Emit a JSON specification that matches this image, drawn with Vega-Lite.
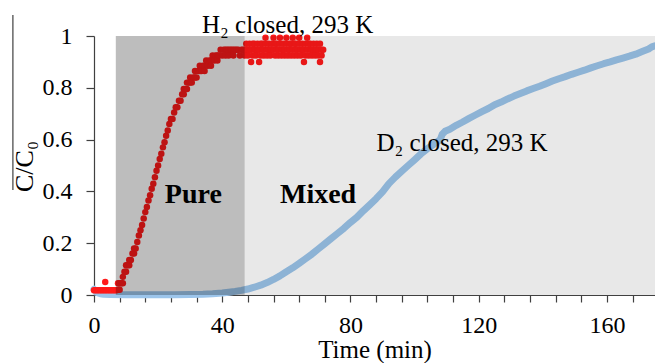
{
  "$schema": "https://vega.github.io/schema/vega-lite/v6.json",
  "width": 561,
  "height": 259,
  "autosize": {"type": "none"},
  "padding": {"left": 94, "top": 36, "right": 0, "bottom": 68},
  "background": "white",
  "config": {
    "view": {"stroke": null},
    "font": "Liberation Serif",
    "axis": {
      "grid": false,
      "zindex": 1,
      "domainColor": "#404040",
      "tickColor": "#404040",
      "domainWidth": 1.2,
      "tickWidth": 1.2,
      "labelColor": "black",
      "titleColor": "black",
      "labelFont": "Liberation Serif",
      "titleFont": "Liberation Serif",
      "labelFontSize": 24,
      "titleFontWeight": "normal",
      "labelFlush": false,
      "labelOverlap": false,
      "labelBound": false
    }
  },
  "datasets": {
    "d2": [
      {"t": 0, "c": 0.022}, {"t": 0.5, "c": 0.014}, {"t": 1, "c": 0.009}, {"t": 2, "c": 0.005},
      {"t": 3, "c": 0.003}, {"t": 5, "c": 0.002}, {"t": 10, "c": 0.001}, {"t": 15, "c": 0.001},
      {"t": 20, "c": 0.001}, {"t": 25, "c": 0.001}, {"t": 30, "c": 0.002}, {"t": 34, "c": 0.003},
      {"t": 37, "c": 0.005}, {"t": 40, "c": 0.008}, {"t": 42, "c": 0.011}, {"t": 44, "c": 0.014},
      {"t": 46, "c": 0.018}, {"t": 48, "c": 0.023}, {"t": 50, "c": 0.03}, {"t": 52, "c": 0.038},
      {"t": 54, "c": 0.048}, {"t": 56, "c": 0.06}, {"t": 58, "c": 0.074}, {"t": 60, "c": 0.09},
      {"t": 62, "c": 0.105}, {"t": 64, "c": 0.122}, {"t": 66, "c": 0.14}, {"t": 68, "c": 0.158},
      {"t": 70, "c": 0.178}, {"t": 72, "c": 0.198}, {"t": 74, "c": 0.218}, {"t": 76, "c": 0.238},
      {"t": 78, "c": 0.258}, {"t": 80, "c": 0.28}, {"t": 82, "c": 0.3}, {"t": 84, "c": 0.325},
      {"t": 86, "c": 0.348}, {"t": 88, "c": 0.372}, {"t": 90, "c": 0.398}, {"t": 92, "c": 0.43},
      {"t": 94, "c": 0.455}, {"t": 96, "c": 0.478}, {"t": 98, "c": 0.5}, {"t": 100, "c": 0.522},
      {"t": 102, "c": 0.545}, {"t": 104, "c": 0.565}, {"t": 106, "c": 0.582}, {"t": 108, "c": 0.6},
      {"t": 108.6, "c": 0.62}, {"t": 109.5, "c": 0.632}, {"t": 111, "c": 0.64}, {"t": 113, "c": 0.655},
      {"t": 115, "c": 0.668}, {"t": 117, "c": 0.682}, {"t": 119, "c": 0.695}, {"t": 121, "c": 0.708},
      {"t": 123, "c": 0.72}, {"t": 125, "c": 0.735}, {"t": 127, "c": 0.745}, {"t": 129, "c": 0.757},
      {"t": 131, "c": 0.768}, {"t": 133, "c": 0.778}, {"t": 135, "c": 0.788}, {"t": 137, "c": 0.797},
      {"t": 139, "c": 0.806}, {"t": 141, "c": 0.816}, {"t": 143, "c": 0.826}, {"t": 145, "c": 0.835},
      {"t": 147, "c": 0.843}, {"t": 149, "c": 0.852}, {"t": 151, "c": 0.86}, {"t": 153, "c": 0.868},
      {"t": 155, "c": 0.877}, {"t": 157, "c": 0.885}, {"t": 159, "c": 0.893}, {"t": 161, "c": 0.9},
      {"t": 163, "c": 0.908}, {"t": 165, "c": 0.915}, {"t": 167, "c": 0.922}, {"t": 169, "c": 0.93},
      {"t": 171, "c": 0.94}, {"t": 173, "c": 0.95}, {"t": 174, "c": 0.958}, {"t": 175, "c": 0.962}
    ],
    "h2": [
      {"t": 0, "c": 0.018}, {"t": 0.5, "c": 0.018}, {"t": 1, "c": 0.018}, {"t": 1.5, "c": 0.018},
      {"t": 2, "c": 0.018}, {"t": 2.5, "c": 0.018}, {"t": 3, "c": 0.018}, {"t": 3.5, "c": 0.018},
      {"t": 3.5, "c": 0.05}, {"t": 4, "c": 0.018}, {"t": 4.5, "c": 0.018}, {"t": 5, "c": 0.018},
      {"t": 5.5, "c": 0.018}, {"t": 6, "c": 0.018}, {"t": 6.5, "c": 0.018}, {"t": 7, "c": 0.018},
      {"t": 7.5, "c": 0.02}, {"t": 7.5, "c": 0.045}, {"t": 8, "c": 0.02}, {"t": 8, "c": 0.045},
      {"t": 8.5, "c": 0.045}, {"t": 9, "c": 0.07}, {"t": 9, "c": 0.045}, {"t": 9.5, "c": 0.09},
      {"t": 10, "c": 0.09}, {"t": 10, "c": 0.115}, {"t": 10.5, "c": 0.115}, {"t": 11, "c": 0.115},
      {"t": 11, "c": 0.135}, {"t": 11.5, "c": 0.135}, {"t": 12, "c": 0.16}, {"t": 12.5, "c": 0.16},
      {"t": 12.5, "c": 0.18}, {"t": 13, "c": 0.18}, {"t": 13.5, "c": 0.205}, {"t": 14, "c": 0.23},
      {"t": 14.5, "c": 0.25}, {"t": 15, "c": 0.27}, {"t": 15.5, "c": 0.295}, {"t": 16, "c": 0.32},
      {"t": 16.5, "c": 0.34}, {"t": 17, "c": 0.365}, {"t": 17.5, "c": 0.385}, {"t": 18, "c": 0.41},
      {"t": 18.5, "c": 0.43}, {"t": 19, "c": 0.455}, {"t": 19.5, "c": 0.48}, {"t": 20, "c": 0.5},
      {"t": 20.5, "c": 0.525}, {"t": 21, "c": 0.545}, {"t": 21.5, "c": 0.57}, {"t": 22, "c": 0.59},
      {"t": 22.5, "c": 0.615}, {"t": 23, "c": 0.635}, {"t": 23.5, "c": 0.66}, {"t": 24, "c": 0.68},
      {"t": 24.5, "c": 0.68}, {"t": 25, "c": 0.705}, {"t": 25.5, "c": 0.725}, {"t": 26, "c": 0.725},
      {"t": 26.5, "c": 0.75}, {"t": 27, "c": 0.75}, {"t": 27.5, "c": 0.775}, {"t": 28, "c": 0.775},
      {"t": 28, "c": 0.795}, {"t": 28.5, "c": 0.795}, {"t": 29, "c": 0.82}, {"t": 29, "c": 0.795},
      {"t": 29.5, "c": 0.82}, {"t": 30, "c": 0.84}, {"t": 30, "c": 0.82}, {"t": 30.5, "c": 0.82},
      {"t": 31, "c": 0.84}, {"t": 31.5, "c": 0.865}, {"t": 31.5, "c": 0.84}, {"t": 32, "c": 0.84},
      {"t": 32.5, "c": 0.865}, {"t": 33, "c": 0.885}, {"t": 33, "c": 0.865}, {"t": 33.5, "c": 0.865},
      {"t": 34, "c": 0.885}, {"t": 34.5, "c": 0.885}, {"t": 34.5, "c": 0.865}, {"t": 35, "c": 0.905},
      {"t": 35.5, "c": 0.885}, {"t": 36, "c": 0.905}, {"t": 36.5, "c": 0.905}, {"t": 36.5, "c": 0.885},
      {"t": 37, "c": 0.925}, {"t": 37.5, "c": 0.905}, {"t": 38, "c": 0.925}, {"t": 38.5, "c": 0.925},
      {"t": 38.5, "c": 0.905}, {"t": 39, "c": 0.925}, {"t": 39.5, "c": 0.947}, {"t": 40, "c": 0.925},
      {"t": 40.5, "c": 0.947}, {"t": 41, "c": 0.947}, {"t": 41, "c": 0.925}, {"t": 41.5, "c": 0.947},
      {"t": 42, "c": 0.925}, {"t": 42, "c": 0.947}, {"t": 42.5, "c": 0.947}, {"t": 43, "c": 0.947},
      {"t": 43.5, "c": 0.947}, {"t": 43.5, "c": 0.925}, {"t": 44, "c": 0.947}, {"t": 44.5, "c": 0.947},
      {"t": 45, "c": 0.947}, {"t": 45.5, "c": 0.925}, {"t": 46, "c": 0.947}, {"t": 46.5, "c": 0.947},
      {"t": 47, "c": 0.947}, {"t": 47, "c": 0.925}, {"t": 47.5, "c": 0.97}, {"t": 47.5, "c": 0.947},
      {"t": 48, "c": 0.947}, {"t": 48, "c": 0.925}, {"t": 48.5, "c": 0.97}, {"t": 48.5, "c": 0.947},
      {"t": 49, "c": 0.947}, {"t": 49, "c": 0.9}, {"t": 49.5, "c": 0.97}, {"t": 49.5, "c": 0.925},
      {"t": 50, "c": 0.947}, {"t": 50, "c": 0.97}, {"t": 50.5, "c": 0.925}, {"t": 50.5, "c": 0.947},
      {"t": 51, "c": 0.97}, {"t": 51, "c": 0.947}, {"t": 51.5, "c": 0.947}, {"t": 51.5, "c": 0.9},
      {"t": 52, "c": 0.97}, {"t": 52, "c": 0.925}, {"t": 52.5, "c": 0.947}, {"t": 52.5, "c": 0.97},
      {"t": 53, "c": 0.925}, {"t": 53, "c": 0.947}, {"t": 53.5, "c": 0.97}, {"t": 53.5, "c": 0.993},
      {"t": 54, "c": 0.947}, {"t": 54, "c": 0.925}, {"t": 54.5, "c": 0.97}, {"t": 54.5, "c": 0.947},
      {"t": 55, "c": 0.947}, {"t": 55, "c": 0.925}, {"t": 55.5, "c": 0.97}, {"t": 55.5, "c": 0.947},
      {"t": 56, "c": 0.947}, {"t": 56, "c": 0.993}, {"t": 56.5, "c": 0.925}, {"t": 56.5, "c": 0.97},
      {"t": 57, "c": 0.947}, {"t": 57, "c": 0.97}, {"t": 57.5, "c": 0.925}, {"t": 57.5, "c": 0.947},
      {"t": 58, "c": 0.97}, {"t": 58, "c": 0.993}, {"t": 58.5, "c": 0.947}, {"t": 58.5, "c": 0.925},
      {"t": 59, "c": 0.97}, {"t": 59, "c": 0.947}, {"t": 59.5, "c": 0.947}, {"t": 59.5, "c": 0.925},
      {"t": 60, "c": 0.97}, {"t": 60, "c": 0.993}, {"t": 60.5, "c": 0.947}, {"t": 60.5, "c": 0.925},
      {"t": 61, "c": 0.97}, {"t": 61, "c": 0.947}, {"t": 61.5, "c": 0.925}, {"t": 61.5, "c": 0.97},
      {"t": 62, "c": 0.947}, {"t": 62, "c": 0.993}, {"t": 62.5, "c": 0.97}, {"t": 62.5, "c": 0.925},
      {"t": 63, "c": 0.947}, {"t": 63, "c": 0.97}, {"t": 63.5, "c": 0.925}, {"t": 63.5, "c": 0.947},
      {"t": 64, "c": 0.97}, {"t": 64, "c": 0.993}, {"t": 64.5, "c": 0.947}, {"t": 64.5, "c": 0.925},
      {"t": 65, "c": 0.97}, {"t": 65, "c": 0.947}, {"t": 65.5, "c": 0.947}, {"t": 65.5, "c": 0.9},
      {"t": 66, "c": 0.97}, {"t": 66, "c": 0.925}, {"t": 66.5, "c": 0.947}, {"t": 66.5, "c": 0.993},
      {"t": 67, "c": 0.925}, {"t": 67, "c": 0.97}, {"t": 67.5, "c": 0.947}, {"t": 67.5, "c": 0.97},
      {"t": 68, "c": 0.925}, {"t": 68, "c": 0.947}, {"t": 68.5, "c": 0.97}, {"t": 68.5, "c": 0.947},
      {"t": 69, "c": 0.947}, {"t": 69, "c": 0.925}, {"t": 69.5, "c": 0.97}, {"t": 69.5, "c": 0.947},
      {"t": 70, "c": 0.947}, {"t": 70, "c": 0.925}, {"t": 70.5, "c": 0.97}, {"t": 70.5, "c": 0.9},
      {"t": 71, "c": 0.947}, {"t": 71, "c": 0.925}, {"t": 71.5, "c": 0.947}
    ],
    "bands": [
      {"t": 6.8, "t2": 47, "c": 0, "c2": 1, "shade": 0.26},
      {"t": 47, "t2": 175, "c": 0, "c2": 1, "shade": 0.09}
    ],
    "notes": [
      {"t": 60.4, "c": 1.01, "label": "H₂ closed, 293 K", "anchor": "center"},
      {"t": 114.8, "c": 0.557, "label": "D₂ closed, 293 K", "anchor": "left"}
    ],
    "phases": [
      {"t": 31, "c": 0.355, "label": "Pure"},
      {"t": 69.9, "c": 0.356, "label": "Mixed"}
    ],
    "overbar": [
      {"t": -25.3, "c": 0.405, "c2": 1.081}
    ]
  },
  "encoding": {
    "x": {
      "field": "t",
      "type": "quantitative",
      "scale": {"domain": [0, 175], "nice": false, "zero": false},
      "axis": {
        "title": "Time (min)",
        "titleFontSize": 25,
        "titleBaseline": "alphabetic",
        "titleY": 62,
        "values": [0, 8, 16, 24, 32, 40, 48, 56, 64, 72, 80, 88, 96, 104, 112, 120, 128, 136, 144, 152, 160, 168],
        "labelExpr": "datum.value % 40 === 0 ? datum.label : ''",
        "tickSize": 7,
        "labelPadding": 11
      }
    },
    "y": {
      "field": "c",
      "type": "quantitative",
      "scale": {"domain": [0, 1], "nice": false, "zero": false},
      "axis": {
        "title": "C/C₀",
        "titleFontSize": 26,
        "titleAngle": 270,
        "titleBaseline": "alphabetic",
        "titleX": -62,
        "titleY": 130,
        "values": [0, 0.2, 0.4, 0.6, 0.8, 1],
        "format": "~g",
        "tickSize": 8,
        "labelPadding": 14
      }
    }
  },
  "layer": [
    {
      "data": {"name": "d2"},
      "mark": {"type": "line", "color": "#9cc5eb", "strokeWidth": 7, "strokeCap": "round", "strokeJoin": "round"}
    },
    {
      "data": {"name": "h2"},
      "mark": {"type": "circle", "color": "#ff1a1a", "size": 42, "opacity": 1}
    },
    {
      "data": {"name": "bands"},
      "mark": {"type": "rect", "color": "black"},
      "encoding": {
        "x2": {"field": "t2"},
        "y2": {"field": "c2"},
        "opacity": {"field": "shade", "type": "quantitative", "scale": null}
      }
    },
    {
      "data": {"name": "overbar"},
      "mark": {"type": "rule", "color": "#404040", "strokeWidth": 1.2},
      "encoding": {"y2": {"field": "c2"}}
    },
    {
      "data": {"name": "notes"},
      "mark": {"type": "text", "fontSize": 25, "baseline": "alphabetic", "color": "black"},
      "encoding": {
        "text": {"field": "label"},
        "align": {"field": "anchor", "type": "nominal", "scale": null}
      }
    },
    {
      "data": {"name": "phases"},
      "mark": {"type": "text", "fontSize": 28, "fontWeight": "bold", "baseline": "alphabetic", "align": "center", "color": "black"},
      "encoding": {"text": {"field": "label"}}
    }
  ]
}
